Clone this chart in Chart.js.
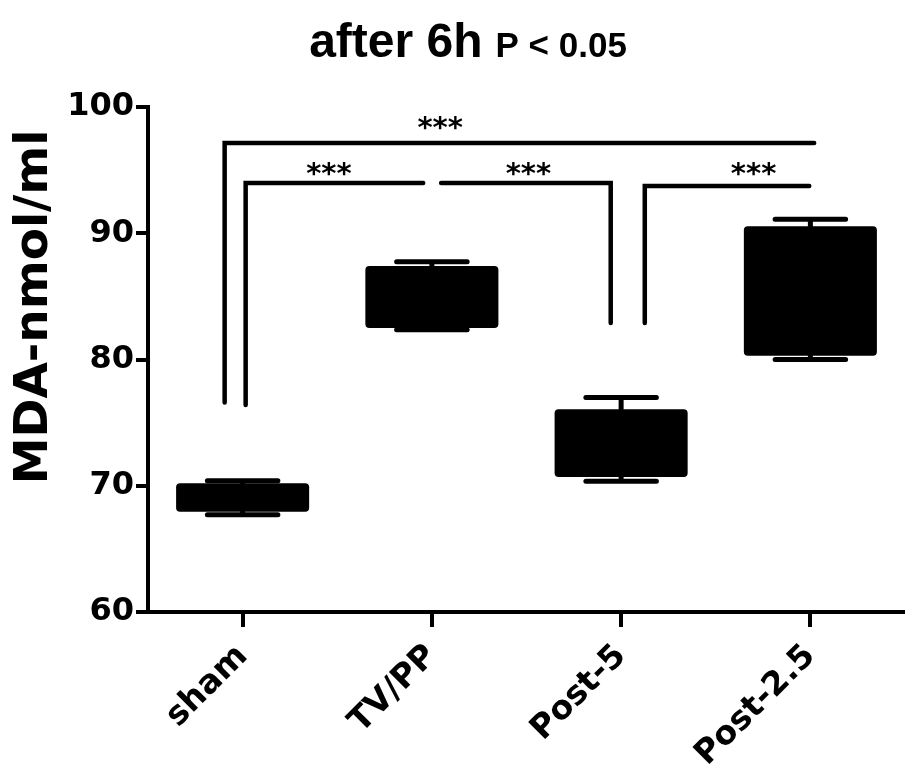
<!DOCTYPE html>
<html>
<head>
<meta charset="utf-8">
<script src="https://cdn.jsdelivr.net/npm/chart.js@4.4.1/dist/chart.umd.min.js"></script>
<style>
html,body{margin:0;padding:0;background:#fff;}
#wrap{position:relative;width:905px;height:770px;}
</style>
</head>
<body>
<div id="wrap"><canvas id="c" width="905" height="770"></canvas></div>
<script>
// ---- data ----
const categories = ['sham', 'TV/PP', 'Post-5', 'Post-2.5'];
const whiskerMin = [67.7, 82.35, 70.35, 80.0];
const boxLow     = [67.95, 82.5, 70.7, 80.3];
const boxHigh    = [70.2, 87.4, 76.05, 90.55];
const whiskerMax = [70.4, 87.75, 77.0, 91.1];
const yTicks = [60, 70, 80, 90, 100];

const titleMain = 'after 6h';
const titleP = 'P < 0.05';
const yTitle = 'MDA-nmol/ml';

// significance brackets (x in category index units, y in MDA units)
const bracketX = [[-0.095, -0.095, 3.02], [0.016, 0.016, 0.954], [1.049, 1.945, 1.945], [2.125, 2.125, 2.994]];
const bracketY = [[76.6, 97.15, 97.15], [76.4, 93.98, 93.98], [93.98, 93.98, 82.9], [82.9, 93.74, 93.74]];
const sigLabels = ['***', '***', '***', '***'];
const sigLabelX = [1.044, 0.456, 1.51, 2.70];
const sigLabelY = [98.73, 95.09, 95.09, 95.09];

const FONT = '"DejaVu Sans", "Liberation Sans", Arial, sans-serif';
const AFONT = '"Liberation Sans", Arial, sans-serif';

const whiskerPlugin = {
  id: 'whiskers',
  afterDatasetsDraw(chart) {
    const ctx = chart.ctx, y = chart.scales.y;
    const meta = chart.getDatasetMeta(0);
    ctx.save();
    ctx.strokeStyle = '#000';
    ctx.lineWidth = 5;
    ctx.lineCap = 'round';
    meta.data.forEach((bar, i) => {
      const x = bar.x, half = bar.width * 0.265;
      const yMax = y.getPixelForValue(whiskerMax[i]);
      const yMin = y.getPixelForValue(whiskerMin[i]);
      const yHi = y.getPixelForValue(boxHigh[i]);
      const yLo = y.getPixelForValue(boxLow[i]);
      ctx.beginPath();
      ctx.moveTo(x, yHi); ctx.lineTo(x, yMax);
      ctx.moveTo(x - half, yMax); ctx.lineTo(x + half, yMax);
      ctx.moveTo(x, yLo); ctx.lineTo(x, yMin);
      ctx.moveTo(x - half, yMin); ctx.lineTo(x + half, yMin);
      ctx.stroke();
    });
    ctx.restore();
  }
};

const bracketPlugin = {
  id: 'brackets',
  afterDatasetsDraw(chart) {
    const ctx = chart.ctx, xs = chart.scales.x, ys = chart.scales.y;
    ctx.save();
    ctx.strokeStyle = '#000';
    ctx.lineWidth = 4.5;
    ctx.lineCap = 'round';
    ctx.lineJoin = 'miter';
    bracketX.forEach((xsArr, k) => {
      ctx.beginPath();
      xsArr.forEach((xv, j) => {
        const px = xs.getPixelForValue(xv), py = ys.getPixelForValue(bracketY[k][j]);
        if (j === 0) ctx.moveTo(px, py); else ctx.lineTo(px, py);
      });
      ctx.stroke();
    });
    ctx.fillStyle = '#000';
    ctx.font = 'bold 29px ' + FONT;
    ctx.textAlign = 'center';
    ctx.textBaseline = 'alphabetic';
    sigLabels.forEach((t, k) => {
      const m = ctx.measureText(t);
      const cx = xs.getPixelForValue(sigLabelX[k]);
      const cy = ys.getPixelForValue(sigLabelY[k]);
      const base = cy + (m.actualBoundingBoxAscent - m.actualBoundingBoxDescent) / 2;
      ctx.fillText(t, cx, base);
    });
    ctx.restore();
  }
};

const textPlugin = {
  id: 'texts',
  afterDraw(chart) {
    const ctx = chart.ctx;
    ctx.save();
    ctx.fillStyle = '#000';
    ctx.textBaseline = 'alphabetic';
    ctx.textAlign = 'left';
    ctx.font = 'bold 48px ' + AFONT;
    const w1 = ctx.measureText(titleMain).width;
    ctx.font = 'bold 35px ' + AFONT;
    const w2 = ctx.measureText(titleP).width;
    const gap = 13;
    const x0 = 468 - (w1 + gap + w2) / 2;
    ctx.font = 'bold 48px ' + AFONT;
    ctx.fillText(titleMain, x0, 57);
    ctx.font = 'bold 35px ' + AFONT;
    ctx.fillText(titleP, x0 + w1 + gap, 57);
    // y axis title
    ctx.translate(35, 307);
    ctx.rotate(-Math.PI / 2);
    ctx.font = 'bold 47px ' + FONT;
    ctx.textAlign = 'center';
    ctx.textBaseline = 'middle';
    ctx.fillText(yTitle, 0, 0);
    ctx.restore();
  }
};

new Chart(document.getElementById('c'), {
  type: 'bar',
  data: {
    labels: categories,
    datasets: [{
      data: categories.map((c, i) => [boxLow[i], boxHigh[i]]),
      backgroundColor: '#000',
      borderWidth: 0,
      borderRadius: 4,
      borderSkipped: false,
      barPercentage: 0.703,
      categoryPercentage: 1.0
    }]
  },
  options: {
    responsive: false,
    animation: false,
    devicePixelRatio: 1,
    layout: { padding: { top: 107, left: 0, right: 0, bottom: 0 } },
    plugins: { legend: { display: false }, tooltip: { enabled: false }, title: { display: false } },
    scales: {
      x: {
        offset: true,
        grid: { display: true, drawOnChartArea: false, drawTicks: true, tickLength: 15, tickWidth: 4, tickColor: '#000', offset: false, color: '#000', lineWidth: 4 },
        border: { display: true, color: '#000', width: 4 },
        ticks: { color: '#000', font: { family: FONT, weight: 'bold', size: 33 }, minRotation: 45, maxRotation: 45, padding: 10, autoSkip: false },
        afterFit(s) { s.height = 158; s.paddingLeft = 0; s.paddingRight = 0; }
      },
      y: {
        min: 60, max: 100,
        afterBuildTicks(s) { s.ticks = yTicks.map(v => ({ value: v })); },
        grid: { display: true, drawOnChartArea: false, drawTicks: true, tickLength: 12, tickWidth: 4, tickColor: '#000', color: '#000', lineWidth: 4 },
        border: { display: true, color: '#000', width: 4 },
        ticks: { color: '#000', font: { family: FONT, weight: 'bold', size: 32 }, padding: 2 },
        afterFit(s) { s.width = 148; s.paddingTop = 0; s.paddingBottom = 0; }
      }
    }
  },
  plugins: [whiskerPlugin, bracketPlugin, textPlugin]
});
</script>
</body>
</html>
